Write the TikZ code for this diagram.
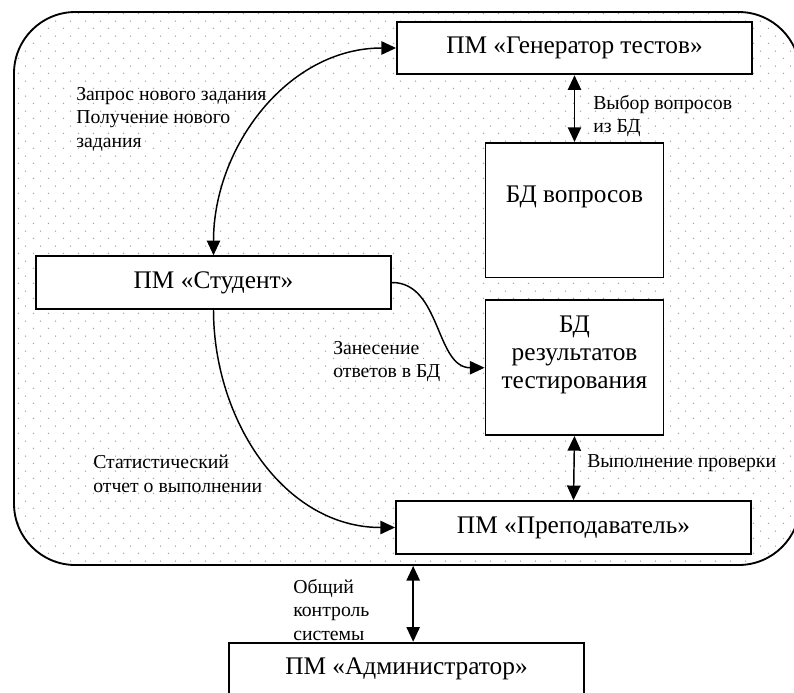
\documentclass[tikz,border=0pt]{standalone}
\usepackage{fontspec}
\setmainfont{Liberation Serif}
\usepackage{tikz}
\usetikzlibrary{arrows.meta}
\usetikzlibrary{patterns.meta}
\usetikzlibrary{positioning}
\definecolor{Dots-1}{RGB}{165,165,165}

\tikzdeclarepattern{
  name=sysdots,
  type=uncolored,
  bounding box={(0pt,0pt) and (11.25pt,11.4pt)},
  tile size={(11.25pt,11.4pt)},
  code={
    \fill (2.8pt,2.85pt) circle (0.65pt);
    \fill (8.4pt,8.55pt) circle (0.65pt);
  }
}

\begin{document}
\begin{tikzpicture}[x=0.75pt, y=-0.75pt]
    \tikzset{ sys/.style  ={draw=black, line width=1.4pt, rounded corners=46pt, minimum width=589.5pt, minimum height=414.75pt, pattern=sysdots, pattern color=Dots-1} }
    \tikzset{ pm/.style   ={draw=black, line width=1.4pt, fill=white, minimum width=266.25pt, minimum height=39.5pt, font=\fontsize{19}{21}\selectfont} }
    \tikzset{ db/.style   ={draw=black, line width=1.4pt, fill=white, minimum width=133.5pt, minimum height=101pt} }
    \tikzset{ dbtxt/.style={yshift=10pt, align=center, font=\fontsize{19}{21}\selectfont} }
    \tikzset{ lbl/.style  ={anchor=north west, inner sep=0pt, align=left, font=\fontsize{14.8}{17.6}\selectfont} }
    \tikzset{ lnk/.style  ={line width=1.1pt, >={Triangle[length=11pt,width=10pt]}} }

    \useasboundingbox (0,0) rectangle (794,693);

    \node[sys                                                               ] (sys)   at (407.0,288.5) {};
    \node[pm                                                                ] (gen)   at (574.5, 48.0) {ПМ «Генератор тестов»};
    \node[db, below=50pt of gen, label={[dbtxt]center:БД вопросов}          ] (qdb)                    {};
    \node[db, below=15.75pt of qdb, label={[dbtxt]center:БД\\результатов\\тестирования}] (resdb)     {};
    \node[pm                                                                ] (stud)  at (213.5,282.5) {ПМ «Студент»};
    \node[pm                                                                ] (teach) at (573.5,527.5) {ПМ «Преподаватель»};
    \node[pm                                                                ] (adm)   at (406.5,669.0) {ПМ «Администратор»};

    \node[lbl] (l_req)  at ( 76, 87) {Запрос нового задания\\Получение нового\\задания};
    \node[lbl] (l_sel)  at (593, 95) {Выбор вопросов\\из БД};
    \node[lbl] (l_ans)  at (333,341) {Занесение\\ответов в БД};
    \node[lbl] (l_stat) at ( 93,455) {Статистический\\отчет о выполнении};
    \node[lbl] (l_chk)  at (587,454) {Выполнение проверки};
    \node[lbl] (l_ctl)  at (293,579) {Общий\\контроль\\системы};

    \draw[lnk, <->] (stud.north)  to[out=90,in=180]  (gen.west);
    \draw[lnk, <->] (gen.south)   --                 (qdb.north);
    \draw[lnk, ->]  (stud.east)   to[out=0,in=180]   (resdb.west);
    \draw[lnk, <->] (resdb.south) --                 (teach.north);
    \draw[lnk, ->]  (stud.south)  to[out=-90,in=180] (teach.west);
    \draw[lnk, <->] ([xshift=5pt]adm.north) -- ([xshift=5pt]adm.north |- sys.south);
\end{tikzpicture}
\end{document}
